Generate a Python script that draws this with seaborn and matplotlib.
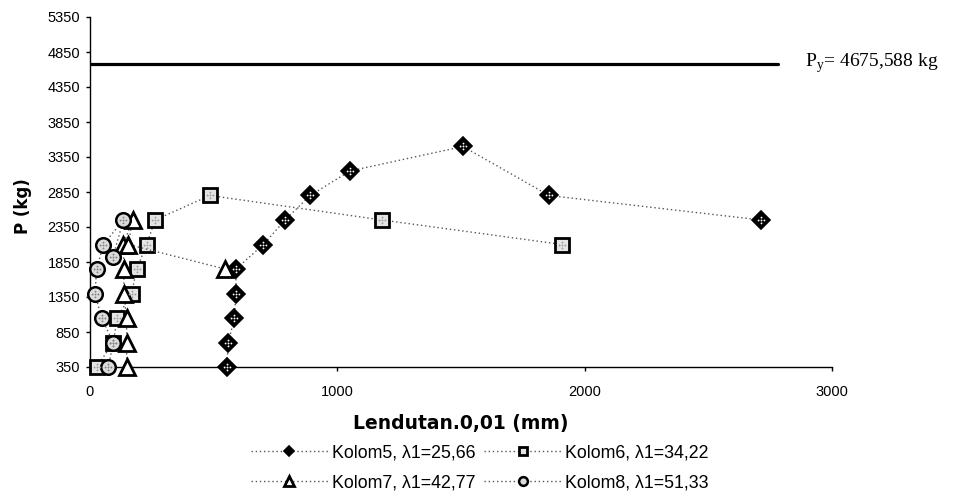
import numpy as np
import pandas as pd
import matplotlib
matplotlib.use("Agg")
import matplotlib.pyplot as plt
from matplotlib.path import Path
import seaborn as sns

# Load-deflection readings (deflection in 0.01 mm, load in kg)
k5_x = [553, 559, 584, 590, 590, 701, 789, 890, 1051, 1508, 1856, 2713]
k5_p = [350, 700, 1050, 1400, 1750, 2100, 2450, 2800, 3150, 3500, 2800, 2450]
k6_x = [27, 94, 110, 168, 189, 229, 263, 485, 1181, 1909]
k6_p = [350, 700, 1050, 1400, 1750, 2100, 2450, 2800, 2450, 2100]
k7_x = [148, 148, 148, 137, 137, 135, 172, 155, 546]
k7_p = [350, 700, 1050, 1400, 1750, 2100, 2450, 2100, 1750]
k8_x = [74, 94, 47, 20, 27, 54, 135, 93]
k8_p = [350, 700, 1050, 1400, 1750, 2100, 2450, 1925]

labels = ["Kolom5, \u03bb1=25,66", "Kolom6, \u03bb1=34,22",
          "Kolom7, \u03bb1=42,77", "Kolom8, \u03bb1=51,33"]

py_value = 4675.588
py_span = [0, 2780]

y_ticks = [350, 850, 1350, 1850, 2350, 2850, 3350, 3850, 4350, 4850, 5350]
x_ticks = [0, 1000, 2000, 3000]

sns.set_theme(style="white")
plt.rcParams["font.family"] = ["Liberation Sans", "DejaVu Sans"]
plt.rcParams["text.color"] = "black"
plt.rcParams["axes.labelcolor"] = "black"

fig = plt.figure(figsize=(9.6, 5.01), dpi=100)
ax = fig.add_axes([90 / 960, 1 - 367 / 501, (832 - 90) / 960, (367 - 17) / 501])

# small dot cluster used as a texture inside the markers
_dots = Path.make_compound_path(*[Path.circle(c, 0.32) for c in
                                  [(0, 0), (1, 0), (-1, 0), (0, 1), (0, -1)]])

series = [
    (k5_x, k5_p, dict(marker="D", markersize=9, markerfacecolor="black",
                      markeredgecolor="black", markeredgewidth=1.2), "white", 5.5),
    (k6_x, k6_p, dict(marker="s", markersize=10.5, markerfacecolor="#e4e4e4",
                      markeredgecolor="black", markeredgewidth=2.0), "#9a9a9a", 5.5),
    (k7_x, k7_p, dict(marker="^", markersize=12, markerfacecolor="white",
                      markeredgecolor="black", markeredgewidth=2.0), None, 0),
    (k8_x, k8_p, dict(marker="o", markersize=10.5, markerfacecolor="#dcdcdc",
                      markeredgecolor="black", markeredgewidth=1.8), "#808080", 5.5),
]

handles = []
for (xs, ps, mk, dot_color, dot_size), lab in zip(series, labels):
    df = pd.DataFrame({"x": xs, "P": ps})
    sns.lineplot(data=df, x="x", y="P", ax=ax, sort=False, estimator=None,
                 color="#555555", linestyle=(0, (1, 2)), linewidth=1.0,
                 clip_on=False, zorder=3, label=lab, **mk)
    handles.append(ax.lines[-1])
    if dot_color is not None:
        ax.plot(xs, ps, linestyle="none", marker=_dots, markersize=dot_size,
                color=dot_color, markeredgewidth=0, clip_on=False, zorder=4)

# yield load reference line
sns.lineplot(x=py_span, y=[py_value, py_value], ax=ax, color="black",
             linewidth=2.3, zorder=2)

if ax.get_legend() is not None:
    ax.get_legend().remove()

ax.set_xlim(0, 3000)
ax.set_ylim(350, 5350)
ax.set_xticks(x_ticks)
ax.set_yticks(y_ticks)
ax.tick_params(axis="both", labelsize=10.5, colors="black", direction="out",
               length=3, width=1, pad=4)
ax.tick_params(axis="y", left=True)
ax.tick_params(axis="x", bottom=True, pad=10)

for side in ["top", "right"]:
    ax.spines[side].set_visible(False)
for side in ["left", "bottom"]:
    ax.spines[side].set_color("black")
    ax.spines[side].set_linewidth(1.0)

ax.set_xlabel("Lendutan.0,01 (mm)", fontsize=13.5, fontweight="bold", labelpad=11,
              family=["DejaVu Sans"], color="black")
ax.set_ylabel("P (kg)", fontsize=12, fontweight="bold", family=["DejaVu Sans"],
              color="black")
ax.yaxis.set_label_coords(-0.078, 0.46)

fig.text(805 / 960, 1 - 63 / 501, r"P$_\mathregular{y}$= 4675,588 kg",
         fontsize=14, family=["Liberation Serif", "DejaVu Serif"], va="center",
         ha="left", color="black")

order = [0, 2, 1, 3]
fig.legend([handles[i] for i in order], [labels[i] for i in order],
           ncol=2, loc="center", bbox_to_anchor=(480 / 960, 1 - 468 / 501),
           frameon=False, fontsize=12.8, handlelength=4.3, handletextpad=0.25,
           columnspacing=0.5, labelspacing=0.75, borderpad=0.2, markerscale=0.6,
           labelcolor="black")

fig.savefig("out.png", dpi=100)
